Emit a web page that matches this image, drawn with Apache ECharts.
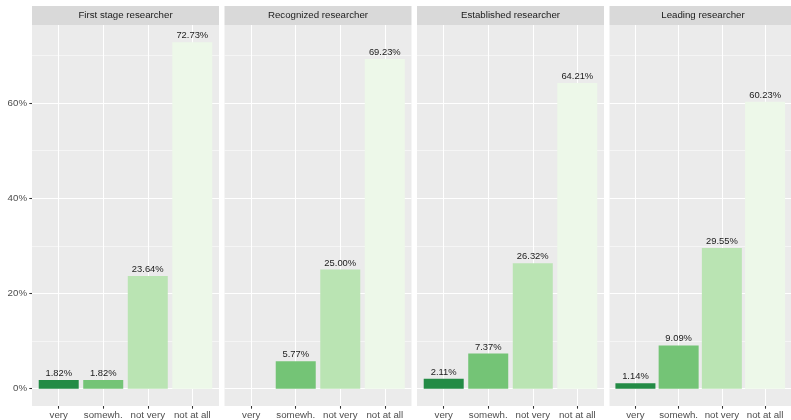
<!DOCTYPE html>
<html>
<head>
<meta charset="utf-8">
<script src="https://cdn.jsdelivr.net/npm/echarts@6/dist/echarts.min.js"></script>
<style>
html,body{margin:0;padding:0;background:#fff;}
#c{width:791px;height:420px;}
</style>
</head>
<body>
<div id="c"></div>
<script>
var categories = ['very', 'somewh.', 'not very', 'not at all'];
var panels = ['First stage researcher', 'Recognized researcher', 'Established researcher', 'Leading researcher'];
var firstStage = [1.82, 1.82, 23.64, 72.73];
var recognized = [null, 5.77, 25.00, 69.23];
var established = [2.11, 7.37, 26.32, 64.21];
var leading = [1.14, 9.09, 29.55, 60.23];
var majorTicks = [0, 20, 40, 60];
var minorTicks = [10, 30, 50, 70];
var colors = ['#238B45', '#74C476', '#BAE4B3', '#EDF8E9'];

var seriesValues = [firstStage, recognized, established, leading];
var FONT = '"Liberation Sans", Arial, sans-serif';
var panelLefts = [32, 224.5, 417, 609.5];
var panelW = 187, panelTop = 25, panelH = 382;

var allVals = [].concat(firstStage, recognized, established, leading).filter(function(v){return v!=null;});
var vmax = Math.max.apply(null, allVals);
var yMin = -0.05 * vmax, yMax = vmax * 1.05;

var grids = [], xAxes = [], yAxes = [], series = [], graphics = [];
panels.forEach(function(name, i){
  grids.push({left: panelLefts[i], top: panelTop, width: panelW, height: panelH,
    show: true, backgroundColor: '#EBEBEB', borderWidth: 0, containLabel: false});
  xAxes.push({type: 'value', gridIndex: i, min: 0.4, max: 4.6, position: 'bottom',
    axisLine: {show: false, onZero: false},
    axisTick: {show: true, length: 2.7, lineStyle: {color: '#333333', width: 1.07}, customValues: [1,2,3,4]},
    axisLabel: {show: true, customValues: [1,2,3,4], margin: 4, color: '#4D4D4D', fontSize: 9.7, fontFamily: FONT,
      formatter: function(v){ return categories[Math.round(v)-1]; }},
    splitLine: {show: true, lineStyle: {color: '#FFFFFF', width: 1.07}}
  });
  yAxes.push({type: 'value', gridIndex: i, min: yMin, max: yMax, position: 'left',
    axisLine: {show: false, onZero: false},
    axisTick: {show: i === 0, length: 2.7, lineStyle: {color: '#333333', width: 1.07}, customValues: majorTicks},
    axisLabel: {show: i === 0, customValues: majorTicks, margin: 5, color: '#4D4D4D', fontSize: 9.7, fontFamily: FONT,
      formatter: function(v){ return v + '%'; }},
    splitLine: {show: true, lineStyle: {color: '#FFFFFF', width: 1.07}}
  });
  yAxes.push({type: 'value', gridIndex: i, min: yMin, max: yMax, position: 'left',
    axisLine: {show: false, onZero: false},
    axisTick: {show: false, customValues: minorTicks},
    axisLabel: {show: false, customValues: minorTicks},
    splitLine: {show: true, lineStyle: {color: '#FFFFFF', width: 0.53}}
  });
  var data = [];
  seriesValues[i].forEach(function(v, k){
    if (v == null) return;
    data.push({value: [k + 1, v], itemStyle: {color: colors[k]}});
  });
  series.push({type: 'bar', xAxisIndex: i, yAxisIndex: 2*i, barWidth: 40, data: data,
    z: 3,
    label: {show: true, position: 'top', distance: 2, color: '#1A1A1A', fontSize: 9.4, fontFamily: FONT,
      formatter: function(p){ return p.value[1].toFixed(2) + '%'; }}
  });
  graphics.push({type: 'rect', shape: {x: panelLefts[i], y: 6, width: panelW, height: 19}, style: {fill: '#D9D9D9'}, silent: true});
  graphics.push({type: 'text', x: panelLefts[i] + panelW/2, y: 15.5,
    style: {text: name, align: 'center', verticalAlign: 'middle', fontSize: 9.7, fill: '#1A1A1A', fontFamily: FONT}, silent: true});
});

var chart = echarts.init(document.getElementById('c'), null, {renderer: 'canvas'});
chart.setOption({
  animation: false,
  backgroundColor: '#FFFFFF',
  grid: grids, xAxis: xAxes, yAxis: yAxes, series: series,
  graphic: graphics
});
</script>
</body>
</html>
